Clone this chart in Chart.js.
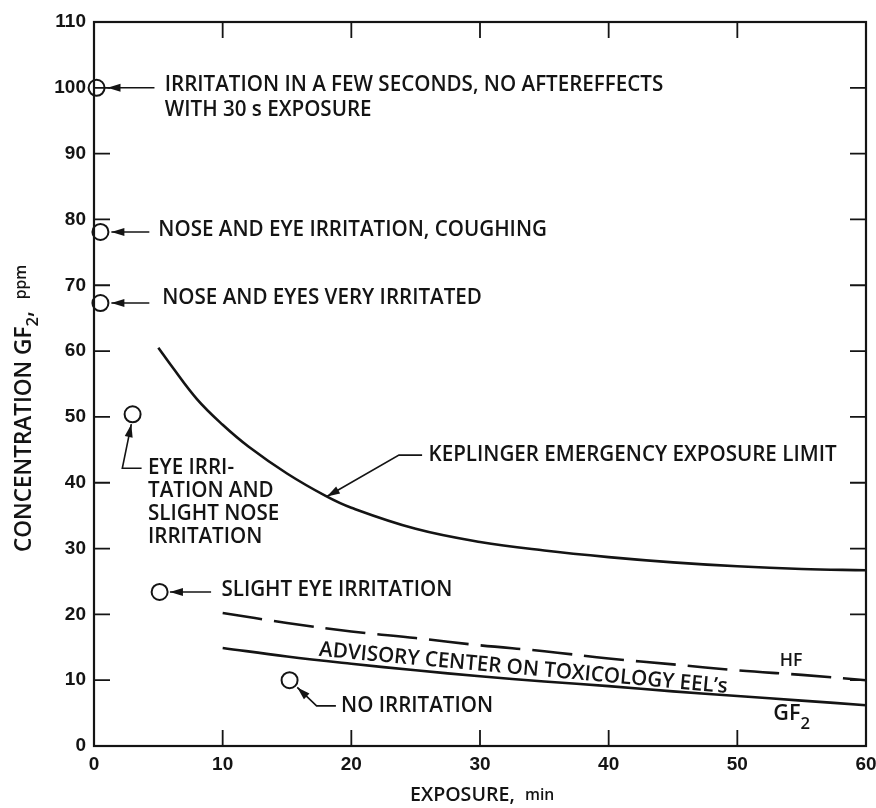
<!DOCTYPE html>
<html>
<head>
<meta charset="utf-8">
<script src="https://cdn.jsdelivr.net/npm/chart.js@4.4.0/dist/chart.umd.min.js"></script>
<style>
  html, body { margin: 0; padding: 0; background: #fff; }
  #wrap { width: 876px; height: 808px; }
</style>
</head>
<body>
<div id="wrap"><canvas id="gf2Chart"></canvas></div>
<script>
// exposure (min) vs concentration GF2 (ppm)
const keplingerTime = [5, 6, 8, 10, 12, 15, 18, 20, 25, 30, 35, 40, 45, 50, 55, 60];
const keplingerPpm = [60.5, 57.8, 52.7, 48.8, 45.5, 41.4, 38.0, 36.2, 33.0, 31.0, 29.7, 28.7, 27.9, 27.3, 26.9, 26.7];
const eelTime = [10, 15, 20, 25, 30, 35, 40, 45, 50, 55, 60];
const hfPpm = [20.2, 18.7, 17.4, 16.4, 15.3, 14.4, 13.3, 12.4, 11.5, 10.8, 10.0];
const gf2Ppm = [14.9, 13.6, 12.5, 11.5, 10.6, 9.8, 9.1, 8.3, 7.6, 6.9, 6.2];
const obsTime = [0.2, 0.5, 0.5, 3.0, 5.1, 15.2];
const obsPpm = [100, 78.1, 67.3, 50.4, 23.4, 10];
const xTicks = [0, 10, 20, 30, 40, 50, 60];
const yTicks = [0, 10, 20, 30, 40, 50, 60, 70, 80, 90, 100, 110];

const INK = '#141414';
const FONT = '"Open Sans", sans-serif';
const SQUEEZE = 0.98;

const pairs = (xs, ys) => xs.map((x, i) => ({ x: x, y: ys[i] }));

// annotation texts, anchored in data units (min, ppm)
const notes = [
  { lines: ['IRRITATION IN A FEW SECONDS, NO AFTEREFFECTS', 'WITH 30 s EXPOSURE'], at: [5.5, 100.4], step: 3.8,
    arrow: [[4.7, 100], [1.05, 100]] },
  { lines: ['NOSE AND EYE IRRITATION, COUGHING'], at: [5.0, 78.4], arrow: [[4.3, 78.1], [1.35, 78.1]] },
  { lines: ['NOSE AND EYES VERY IRRITATED'], at: [5.3, 68.1], arrow: [[4.3, 67.3], [1.35, 67.3]] },
  { lines: ['EYE IRRI-', 'TATION AND', 'SLIGHT NOSE', 'IRRITATION'], at: [4.2, 42.2], step: 3.5,
    arrow: [[3.7, 42.2], [2.2, 42.2], [2.9, 48.9]] },
  { lines: ['SLIGHT EYE IRRITATION'], at: [9.9, 23.7], arrow: [[9.1, 23.4], [5.9, 23.4]] },
  { lines: ['NO IRRITATION'], at: [19.2, 6.1], arrow: [[18.8, 6.1], [17.3, 6.1], [15.8, 8.9]] },
  { lines: ['KEPLINGER EMERGENCY EXPOSURE LIMIT'], at: [26.0, 44.2], arrow: [[25.5, 44.2], [23.7, 44.2], [18.1, 37.9]] },
  { lines: ['HF'], at: [53.3, 12.9], size: 18 }
];

function drawRich(ctx, parts, x, y, angle) {
  ctx.save();
  ctx.translate(x, y);
  ctx.rotate(angle || 0);
  ctx.scale(SQUEEZE, 1);
  ctx.textBaseline = 'middle';
  ctx.fillStyle = INK;
  let cx = 0;
  parts.forEach(p => {
    ctx.font = (p.weight || 600) + ' ' + p.size + 'px ' + FONT;
    ctx.fillText(p.t, cx, p.dy || 0);
    cx += ctx.measureText(p.t).width;
  });
  ctx.restore();
}

function arrowPath(ctx, pts) {
  ctx.beginPath();
  ctx.moveTo(pts[0][0], pts[0][1]);
  for (let i = 1; i < pts.length; i++) ctx.lineTo(pts[i][0], pts[i][1]);
  ctx.stroke();
  const [x1, y1] = pts[pts.length - 2];
  const [x2, y2] = pts[pts.length - 1];
  const a = Math.atan2(y2 - y1, x2 - x1);
  const L = 13, W = 4;
  ctx.beginPath();
  ctx.moveTo(x2, y2);
  ctx.lineTo(x2 - L * Math.cos(a) + W * Math.sin(a), y2 - L * Math.sin(a) - W * Math.cos(a));
  ctx.lineTo(x2 - L * Math.cos(a) - W * Math.sin(a), y2 - L * Math.sin(a) + W * Math.cos(a));
  ctx.closePath();
  ctx.fill();
}

const annotate = {
  id: 'annotate',
  afterDatasetsDraw(chart) {
    const ctx = chart.ctx;
    const xs = chart.scales.x, ys = chart.scales.y;
    const P = (t, v) => [xs.getPixelForValue(t), ys.getPixelForValue(v)];
    ctx.save();
    ctx.strokeStyle = INK;
    ctx.fillStyle = INK;
    ctx.lineWidth = 1.6;
    notes.forEach(n => {
      n.lines.forEach((s, i) => {
        const [x, y] = P(n.at[0], n.at[1] - i * (n.step || 0));
        drawRich(ctx, [{ t: s, size: n.size || 21 }], x, y);
      });
      if (n.arrow) arrowPath(ctx, n.arrow.map(p => P(p[0], p[1])));
    });

    // sloped label between the two EEL lines
    let [ax, ay] = P(17.5, 14.6);
    drawRich(ctx, [{ t: 'ADVISORY CENTER ON TOXICOLOGY EEL\u2019s', size: 21 }], ax, ay, 5.2 * Math.PI / 180);
    [ax, ay] = P(52.8, 4.9);
    drawRich(ctx, [{ t: 'GF', size: 22 }, { t: '2', size: 17, dy: 10 }], ax, ay);

    // axis titles
    drawRich(ctx, [{ t: 'CONCENTRATION GF', size: 23 }, { t: '2', size: 17, dy: 9 },
      { t: ',  ', size: 23 }, { t: 'ppm', size: 16, dy: -3 }], 24, 552, -Math.PI / 2);
    drawRich(ctx, [{ t: 'EXPOSURE,  ', size: 20 }, { t: 'min', size: 16 }], 410, 795);
    ctx.restore();
  },
  afterDraw(chart) {
    // boxed frame with inward ticks on all four sides
    const ctx = chart.ctx;
    const a = chart.chartArea;
    const xs = chart.scales.x, ys = chart.scales.y;
    const T = 16;
    ctx.save();
    ctx.strokeStyle = INK;
    ctx.lineWidth = 2.2;
    ctx.strokeRect(a.left, a.top, a.right - a.left, a.bottom - a.top);
    ctx.lineWidth = 1.8;
    ctx.beginPath();
    xTicks.slice(1, -1).forEach(v => {
      const x = xs.getPixelForValue(v);
      ctx.moveTo(x, a.bottom); ctx.lineTo(x, a.bottom - T);
      ctx.moveTo(x, a.top); ctx.lineTo(x, a.top + T);
    });
    yTicks.slice(1, -1).forEach(v => {
      const y = ys.getPixelForValue(v);
      ctx.moveTo(a.left, y); ctx.lineTo(a.left + T, y);
      ctx.moveTo(a.right, y); ctx.lineTo(a.right - T, y);
    });
    ctx.stroke();
    ctx.restore();
  }
};

const tickFont = { family: '"Liberation Sans", sans-serif', size: 19, weight: 'bold' };

new Chart(document.getElementById('gf2Chart'), {
  type: 'scatter',
  data: {
    datasets: [{
      label: 'Keplinger emergency exposure limit',
      data: pairs(keplingerTime, keplingerPpm),
      showLine: true,
      borderColor: INK,
      borderWidth: 2.6,
      pointRadius: 0,
      tension: 0.4
    }, {
      label: 'HF',
      data: pairs(eelTime, hfPpm),
      showLine: true,
      borderColor: INK,
      borderWidth: 2.6,
      borderDash: [40, 12],
      pointRadius: 0,
      tension: 0.4
    }, {
      label: 'GF2',
      data: pairs(eelTime, gf2Ppm),
      showLine: true,
      borderColor: INK,
      borderWidth: 2.6,
      pointRadius: 0,
      tension: 0.4
    }, {
      label: 'Observations',
      data: pairs(obsTime, obsPpm),
      showLine: false,
      clip: false,
      pointRadius: 8,
      pointBackgroundColor: '#fff',
      pointBorderColor: INK,
      pointBorderWidth: 2
    }]
  },
  options: {
    responsive: true,
    maintainAspectRatio: false,
    animation: false,
    layout: { padding: { top: 22, right: 8, left: 0, bottom: 0 } },
    plugins: { legend: { display: false }, tooltip: { enabled: false } },
    scales: {
      x: {
        type: 'linear', min: 0, max: 60,
        afterBuildTicks: s => { s.ticks = xTicks.map(v => ({ value: v })); },
        afterFit: s => { s.height = 62; s.paddingLeft = 0; s.paddingRight = 0; },
        grid: { display: false, drawTicks: false },
        border: { display: false },
        ticks: { color: INK, font: tickFont, padding: 7, maxRotation: 0 }
      },
      y: {
        type: 'linear', min: 0, max: 110,
        afterBuildTicks: s => { s.ticks = yTicks.map(v => ({ value: v })); },
        afterFit: s => { s.width = 94; s.paddingTop = 0; s.paddingBottom = 0; },
        grid: { display: false, drawTicks: false },
        border: { display: false },
        ticks: { color: INK, font: tickFont, padding: 8 }
      }
    }
  },
  plugins: [annotate]
});
</script>
</body>
</html>
